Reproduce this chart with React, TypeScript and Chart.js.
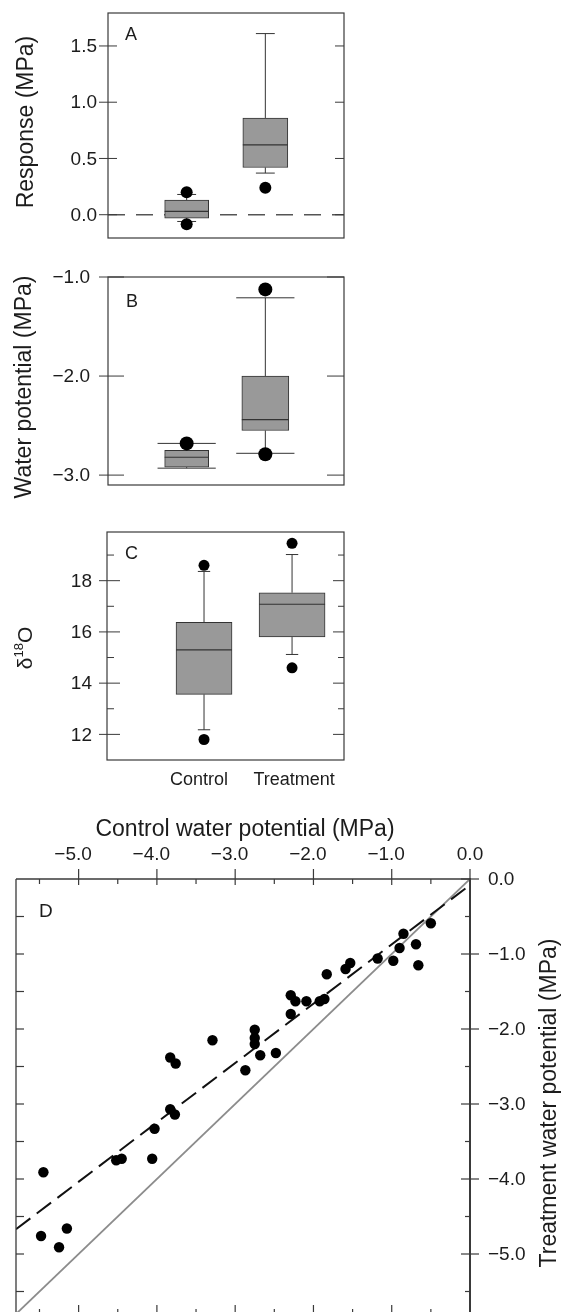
import React, { useEffect, useRef } from 'react';
import { Chart, registerables } from 'chart.js';

Chart.register(...registerables);

// ---------- data ----------
const categories = ['Control', 'Treatment'];
const categoryPositions = [1, 2];

// Panel A: response (MPa)
const responseLowerWhisker = [-0.06, 0.37];
const responseQ1 = [-0.03, 0.42];
const responseMedian = [0.03, 0.62];
const responseQ3 = [0.13, 0.86];
const responseUpperWhisker = [0.18, 1.61];
const responseOutliers = [[0.2, -0.085], [0.24]];
const responseTicks = [0, 0.5, 1.0, 1.5];
const responseTickLabels = ['0.0', '0.5', '1.0', '1.5'];

// Panel B: water potential (MPa)
const potentialLowerWhisker = [-2.93, -2.78];
const potentialQ1 = [-2.92, -2.55];
const potentialMedian = [-2.82, -2.44];
const potentialQ3 = [-2.75, -2.0];
const potentialUpperWhisker = [-2.68, -1.21];
const potentialOutliers = [[-2.68], [-1.125, -2.79]];
const potentialTicks = [-1, -2, -3];
const potentialTickLabels = ['\u22121.0', '\u22122.0', '\u22123.0'];

// Panel C: delta 18O
const isotopeLowerWhisker = [12.18, 15.12];
const isotopeQ1 = [13.56, 15.8];
const isotopeMedian = [15.3, 17.08];
const isotopeQ3 = [16.37, 17.53];
const isotopeUpperWhisker = [18.36, 19.02];
const isotopeOutliers = [[18.6, 11.8], [19.46, 14.6]];
const isotopeTicks = [12, 14, 16, 18];
const isotopeMinorTicks = [13, 15, 17, 19];
const isotopeTickLabels = ['12', '14', '16', '18'];

// Panel D: control vs treatment water potential
const controlWP = [-0.50, -0.85, -0.90, -0.69, -0.66, -0.98, -1.18, -1.53, -1.59, -1.83, -1.86, -1.92, -2.09, -2.23, -2.29, -2.29, -2.75, -2.75, -2.75, -2.68, -2.48, -2.87, -3.29, -3.83, -3.76, -3.83, -3.77, -4.03, -4.06, -4.52, -4.45, -5.45, -5.48, -5.25, -5.15];
const treatmentWP = [-0.59, -0.73, -0.92, -0.87, -1.15, -1.09, -1.06, -1.12, -1.20, -1.27, -1.60, -1.63, -1.63, -1.63, -1.55, -1.80, -2.01, -2.12, -2.20, -2.35, -2.32, -2.55, -2.15, -2.38, -2.46, -3.07, -3.14, -3.33, -3.73, -3.75, -3.73, -3.91, -4.76, -4.91, -4.66];
const regressionX = [-5.8, 0];
const regressionY = [-4.67, -0.08];
const identityX = [-5.8, 0];
const identityY = [-5.8, 0];
const dMajorTicks = [-5, -4, -3, -2, -1, 0];
const dMinorTicks = [-5.5, -4.5, -3.5, -2.5, -1.5, -0.5];
const dTickLabels = ['\u22125.0', '\u22124.0', '\u22123.0', '\u22122.0', '\u22121.0', '0.0'];

// ---------- styling ----------
const FONT = '"Liberation Sans", Arial, Helvetica, sans-serif';
const TEXT = '#1c1c1c';
const FRAME = '#3a3a3a';
const BOX_FILL = '#999999';
const BOX_EDGE = '#333333';

const font = (px: number) => `${px}px ${FONT}`;

function seg(ctx: CanvasRenderingContext2D, x1: number, y1: number, x2: number, y2: number) {
  ctx.beginPath();
  ctx.moveTo(x1, y1);
  ctx.lineTo(x2, y2);
  ctx.stroke();
}

function rotatedTitle(ctx: CanvasRenderingContext2D, text: string, baseX: number, centerY: number, size: number) {
  ctx.save();
  ctx.translate(baseX, centerY);
  ctx.rotate(-Math.PI / 2);
  ctx.font = font(size);
  ctx.fillStyle = TEXT;
  ctx.textAlign = 'center';
  ctx.textBaseline = 'alphabetic';
  ctx.fillText(text, 0, 0);
  ctx.restore();
}

type BoxSpec = {
  letter: string;
  top: number;
  height: number;
  padding: { left: number; top: number; right: number; bottom: number };
  xMin: number; xMax: number; yMin: number; yMax: number;
  lo: number[]; q1: number[]; med: number[]; q3: number[]; hi: number[];
  outliers: number[][];
  boxWidths: number[];
  capHalf: number;
  dotRadius: number;
  ticks: number[]; tickLabels: string[]; minorTicks: number[];
  labelRight: number; tickOut: number; tickIn: number; rightTickIn: number; minorIn: number; rightMinorIn: number;
  title: string | null; titleX: number; titleY: number;
  letterX: number; letterY: number;
  zeroLine: boolean;
  categoryLabels: boolean;
  catLabelY: number;
};

function makeBoxChart(canvas: HTMLCanvasElement, s: BoxSpec) {
  const boxSets = categories.map((name, i) => ({
    type: 'bar' as const,
    label: name,
    data: [{ x: categoryPositions[i], y: [s.q1[i], s.q3[i]] }],
    backgroundColor: BOX_FILL,
    borderColor: BOX_EDGE,
    borderWidth: 1,
    borderSkipped: false,
    barThickness: s.boxWidths[i],
    grouped: false,
    order: 2,
  }));
  const outlierData = s.outliers.flatMap((vals, i) => vals.map((v) => ({ x: categoryPositions[i], y: v })));

  const plugin = {
    id: 'boxDeco' + s.letter,
    beforeDatasetsDraw(chart: any) {
      const { ctx, chartArea: a, scales } = chart;
      const x = scales.x, y = scales.y;
      ctx.save();
      if (s.zeroLine) {
        ctx.strokeStyle = '#555';
        ctx.lineWidth = 1.6;
        ctx.setLineDash([17, 11]);
        const py = y.getPixelForValue(0);
        seg(ctx, a.left, py, a.right, py);
        ctx.setLineDash([]);
      }
      ctx.strokeStyle = BOX_EDGE;
      ctx.lineWidth = 1;
      categoryPositions.forEach((pos, i) => {
        const cx = x.getPixelForValue(pos);
        const cl = x.getPixelForValue(pos - s.capHalf);
        const cr = x.getPixelForValue(pos + s.capHalf);
        const pHi = y.getPixelForValue(s.hi[i]);
        const pLo = y.getPixelForValue(s.lo[i]);
        seg(ctx, cx, y.getPixelForValue(s.q3[i]), cx, pHi);
        seg(ctx, cl, pHi, cr, pHi);
        seg(ctx, cx, y.getPixelForValue(s.q1[i]), cx, pLo);
        seg(ctx, cl, pLo, cr, pLo);
      });
      ctx.restore();
    },
    afterDatasetDraw(chart: any, args: any) {
      const i = args.index;
      if (i >= categoryPositions.length) return;
      const { ctx, scales } = chart;
      const cx = scales.x.getPixelForValue(categoryPositions[i]);
      const py = scales.y.getPixelForValue(s.med[i]);
      ctx.save();
      ctx.strokeStyle = BOX_EDGE;
      ctx.lineWidth = 1.2;
      seg(ctx, cx - s.boxWidths[i] / 2, py, cx + s.boxWidths[i] / 2, py);
      ctx.restore();
    },
    afterDraw(chart: any) {
      const { ctx, chartArea: a, scales } = chart;
      const x = scales.x, y = scales.y;
      ctx.save();
      // frame
      ctx.strokeStyle = FRAME;
      ctx.lineWidth = 1.2;
      ctx.strokeRect(a.left, a.top, a.right - a.left, a.bottom - a.top);
      // ticks
      ctx.lineWidth = 1;
      s.ticks.forEach((t) => {
        const py = y.getPixelForValue(t);
        seg(ctx, a.left - s.tickOut, py, a.left + s.tickIn, py);
        seg(ctx, a.right - s.rightTickIn, py, a.right, py);
      });
      s.minorTicks.forEach((t) => {
        const py = y.getPixelForValue(t);
        seg(ctx, a.left, py, a.left + s.minorIn, py);
        seg(ctx, a.right - s.rightMinorIn, py, a.right, py);
      });
      // tick labels
      ctx.fillStyle = TEXT;
      ctx.font = font(19);
      ctx.textAlign = 'right';
      ctx.textBaseline = 'middle';
      s.ticks.forEach((t, i) => {
        ctx.fillText(s.tickLabels[i], s.labelRight, y.getPixelForValue(t) + 1);
      });
      // panel letter
      ctx.font = font(18);
      ctx.textAlign = 'left';
      ctx.textBaseline = 'alphabetic';
      ctx.fillText(s.letter, s.letterX, s.letterY);
      // category labels
      if (s.categoryLabels) {
        ctx.font = font(18);
        ctx.textAlign = 'center';
        categories.forEach((name, i) => {
          ctx.fillText(name, x.getPixelForValue(categoryPositions[i]) - (i === 0 ? 5 : -2), s.catLabelY);
        });
      }
      ctx.restore();
      // axis title
      if (s.title) {
        rotatedTitle(ctx, s.title, s.titleX, s.titleY, 23);
      } else {
        // delta 18 O with superscript
        ctx.save();
        ctx.translate(s.titleX, s.titleY);
        ctx.rotate(-Math.PI / 2);
        ctx.fillStyle = TEXT;
        ctx.textBaseline = 'alphabetic';
        ctx.textAlign = 'left';
        ctx.font = font(21);
        const wd = ctx.measureText('\u03b4').width;
        const wo = ctx.measureText('O').width;
        ctx.font = font(13);
        const ws = ctx.measureText('18').width;
        let cx0 = -(wd + ws + wo) / 2;
        ctx.font = font(21);
        ctx.fillText('\u03b4', cx0, 0);
        cx0 += wd;
        ctx.font = font(13);
        ctx.fillText('18', cx0, -9);
        cx0 += ws;
        ctx.font = font(21);
        ctx.fillText('O', cx0, 0);
        ctx.restore();
      }
    },
  };

  return new Chart(canvas, {
    type: 'bar',
    data: {
      datasets: [
        ...boxSets,
        {
          type: 'scatter' as const,
          label: 'Outliers',
          data: outlierData,
          pointRadius: s.dotRadius,
          pointHoverRadius: s.dotRadius,
          backgroundColor: '#000',
          borderColor: '#000',
          borderWidth: 0,
          order: 1,
        },
      ] as any,
    },
    options: {
      animation: false,
      responsive: false,
      events: [],
      layout: { padding: s.padding },
      plugins: { legend: { display: false }, tooltip: { enabled: false } },
      scales: {
        x: { type: 'linear', min: s.xMin, max: s.xMax, display: false, offset: false },
        y: { type: 'linear', min: s.yMin, max: s.yMax, display: false },
      },
    } as any,
    plugins: [plugin],
  });
}

const panelA: BoxSpec = {
  letter: 'A', top: 0, height: 250,
  padding: { left: 108, top: 13, right: 220, bottom: 12 },
  xMin: 0, xMax: 3, yMin: -0.207, yMax: 1.793,
  lo: responseLowerWhisker, q1: responseQ1, med: responseMedian, q3: responseQ3, hi: responseUpperWhisker,
  outliers: responseOutliers,
  boxWidths: [44, 45], capHalf: 0.12, dotRadius: 6,
  ticks: responseTicks, tickLabels: responseTickLabels, minorTicks: [],
  labelRight: 97, tickOut: 9, tickIn: 9, rightTickIn: 9, minorIn: 0, rightMinorIn: 0,
  title: 'Response (MPa)', titleX: 33, titleY: 122,
  letterX: 125, letterY: 40,
  zeroLine: true, categoryLabels: false, catLabelY: 0,
};

const panelB: BoxSpec = {
  letter: 'B', top: 250, height: 250,
  padding: { left: 108, top: 27, right: 220, bottom: 15 },
  xMin: 0, xMax: 3, yMin: -3.1, yMax: -1.0,
  lo: potentialLowerWhisker, q1: potentialQ1, med: potentialMedian, q3: potentialQ3, hi: potentialUpperWhisker,
  outliers: potentialOutliers,
  boxWidths: [44, 47], capHalf: 0.37, dotRadius: 7,
  ticks: potentialTicks, tickLabels: potentialTickLabels, minorTicks: [],
  labelRight: 90, tickOut: 9, tickIn: 16, rightTickIn: 17, minorIn: 0, rightMinorIn: 0,
  title: 'Water potential (MPa)', titleX: 31, titleY: 137,
  letterX: 126, letterY: 57,
  zeroLine: false, categoryLabels: false, catLabelY: 0,
};

const panelC: BoxSpec = {
  letter: 'C', top: 500, height: 300,
  padding: { left: 107, top: 32, right: 220, bottom: 40 },
  xMin: -0.102, xMax: 2.59, yMin: 11.0, yMax: 19.9,
  lo: isotopeLowerWhisker, q1: isotopeQ1, med: isotopeMedian, q3: isotopeQ3, hi: isotopeUpperWhisker,
  outliers: isotopeOutliers,
  boxWidths: [56, 66], capHalf: 0.07, dotRadius: 5.5,
  ticks: isotopeTicks, tickLabels: isotopeTickLabels, minorTicks: isotopeMinorTicks,
  labelRight: 92, tickOut: 8, tickIn: 13, rightTickIn: 11, minorIn: 7, rightMinorIn: 6,
  title: null, titleX: 32, titleY: 148,
  letterX: 125, letterY: 59,
  zeroLine: false, categoryLabels: true, catLabelY: 285,
};

function makeScatterChart(canvas: HTMLCanvasElement) {
  const points = controlWP.map((v, i) => ({ x: v, y: treatmentWP[i] }));
  const regression = regressionX.map((v, i) => ({ x: v, y: regressionY[i] }));
  const identity = identityX.map((v, i) => ({ x: v, y: identityY[i] }));

  const plugin = {
    id: 'scatterDeco',
    afterDraw(chart: any) {
      const { ctx, chartArea: a, scales } = chart;
      const x = scales.x, y = scales.y;
      ctx.save();
      ctx.strokeStyle = FRAME;
      ctx.lineWidth = 1.3;
      seg(ctx, a.left, a.top, a.right, a.top);
      seg(ctx, a.left, a.top, a.left, a.bottom);
      seg(ctx, a.left, a.bottom, a.right, a.bottom);
      ctx.lineWidth = 2;
      seg(ctx, a.right, a.top - 1, a.right, a.bottom);
      ctx.lineWidth = 1.2;
      // top & bottom ticks
      dMajorTicks.forEach((t) => {
        const px = x.getPixelForValue(t);
        seg(ctx, px, a.top - 10, px, a.top + 6);
        seg(ctx, px, a.bottom - 9, px, a.bottom);
      });
      dMinorTicks.forEach((t) => {
        const px = x.getPixelForValue(t);
        seg(ctx, px, a.top, px, a.top + 5);
        seg(ctx, px, a.bottom - 5, px, a.bottom);
      });
      // left & right ticks
      dMajorTicks.forEach((t) => {
        const py = y.getPixelForValue(t);
        seg(ctx, a.right - 9, py, a.right + 9, py);
        if (t !== 0) seg(ctx, a.left, py, a.left + 8, py);
      });
      dMinorTicks.forEach((t) => {
        const py = y.getPixelForValue(t);
        seg(ctx, a.right - 5, py, a.right, py);
        seg(ctx, a.left, py, a.left + 8, py);
      });
      // top tick labels (numeric part centred on tick)
      ctx.fillStyle = TEXT;
      ctx.font = font(19);
      ctx.textBaseline = 'alphabetic';
      ctx.textAlign = 'right';
      dMajorTicks.forEach((t, i) => {
        const lab = dTickLabels[i];
        const num = lab.replace('\u2212', '');
        const w = ctx.measureText(num).width;
        ctx.fillText(lab, x.getPixelForValue(t) + w / 2, 60);
      });
      // right tick labels
      ctx.textAlign = 'left';
      ctx.textBaseline = 'middle';
      dMajorTicks.forEach((t, i) => {
        ctx.fillText(dTickLabels[i], a.right + 18, y.getPixelForValue(t) + 1);
      });
      // top title
      ctx.font = font(23);
      ctx.textAlign = 'center';
      ctx.textBaseline = 'alphabetic';
      ctx.fillText('Control water potential (MPa)', 245, 36);
      // panel letter
      ctx.font = font(19);
      ctx.textAlign = 'left';
      ctx.fillText('D', 39, 117);
      ctx.restore();
      rotatedTitle(ctx, 'Treatment water potential (MPa)', 556, 303, 23);
    },
  };

  return new Chart(canvas, {
    type: 'scatter',
    data: {
      datasets: [
        {
          label: 'Plants',
          data: points,
          pointRadius: 5.2,
          pointHoverRadius: 5.2,
          backgroundColor: '#000',
          borderColor: '#000',
          borderWidth: 0,
          order: 0,
        },
        {
          type: 'line',
          label: 'Regression',
          data: regression,
          borderColor: '#111',
          borderWidth: 2,
          borderDash: [18, 8],
          pointRadius: 0,
          fill: false,
          order: 1,
        },
        {
          type: 'line',
          label: '1:1',
          data: identity,
          borderColor: '#8c8c8c',
          borderWidth: 1.8,
          pointRadius: 0,
          fill: false,
          order: 2,
        },
      ] as any,
    },
    options: {
      animation: false,
      responsive: false,
      events: [],
      layout: { padding: { left: 16, top: 79, right: 94, bottom: 26 } },
      plugins: { legend: { display: false }, tooltip: { enabled: false } },
      scales: {
        x: { type: 'linear', min: -5.8, max: 0, display: false },
        y: { type: 'linear', min: -5.8, max: 0, display: false },
      },
    } as any,
    plugins: [plugin],
  });
}

function BoxPanel({ spec }: { spec: BoxSpec }) {
  const ref = useRef<HTMLCanvasElement | null>(null);
  useEffect(() => {
    if (!ref.current) return;
    const chart = makeBoxChart(ref.current, spec);
    return () => chart.destroy();
  }, [spec]);
  return (
    <canvas
      ref={ref}
      width={564}
      height={spec.height}
      style={{ position: 'absolute', left: 0, top: spec.top, width: 564, height: spec.height }}
    />
  );
}

function ScatterPanel() {
  const ref = useRef<HTMLCanvasElement | null>(null);
  useEffect(() => {
    if (!ref.current) return;
    const chart = makeScatterChart(ref.current);
    return () => chart.destroy();
  }, []);
  return (
    <canvas
      ref={ref}
      width={564}
      height={540}
      style={{ position: 'absolute', left: 0, top: 800, width: 564, height: 540 }}
    />
  );
}

export default function App() {
  return (
    <div
      style={{
        position: 'absolute',
        left: 0,
        top: 0,
        width: 564,
        height: 1312,
        overflow: 'hidden',
        background: '#ffffff',
      }}
    >
      <BoxPanel spec={panelA} />
      <BoxPanel spec={panelB} />
      <BoxPanel spec={panelC} />
      <ScatterPanel />
    </div>
  );
}
